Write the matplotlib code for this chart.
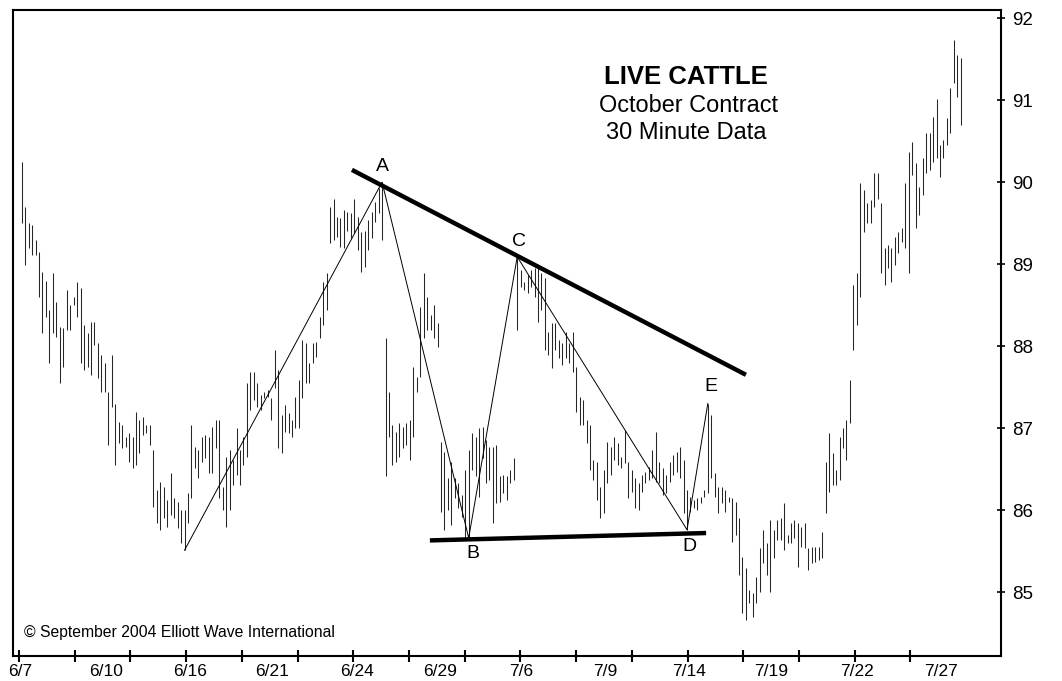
#!/usr/bin/env python3
"""Live Cattle October contract, 30 minute bars, with contracting triangle."""

import matplotlib
matplotlib.use("Agg")
import matplotlib.pyplot as plt
import numpy as np

plt.rcParams["font.family"] = ["Liberation Sans", "DejaVu Sans"]

# bar highs / lows, one pair per 30 minute bar (6/7 .. 7/28)
HIGHS = [
    90.24, 89.70, 89.50, 89.48, 89.29, 89.15, 88.90, 88.80, 88.44, 88.89,
    88.54, 88.23, 88.22, 88.68, 88.50, 88.60, 88.78, 88.71, 88.26, 88.16,
    88.29, 88.29, 88.04, 87.89, 87.79, 87.44, 87.89, 87.30, 87.07, 87.04,
    86.89, 86.94, 86.89, 87.20, 87.10, 87.13, 87.04, 87.04, 86.73, 86.24,
    86.34, 86.28, 86.12, 86.45, 86.15, 86.10, 86.00, 86.00, 86.21, 87.04,
    86.77, 86.73,
    86.89, 86.91, 86.89, 87.01, 87.10, 87.10, 86.28, 86.65, 86.73, 86.61,
    87.00, 86.73, 86.89, 87.55, 87.68, 87.68, 87.55, 87.40, 87.44, 87.46,
    87.37, 87.95, 87.71, 87.16, 87.28, 87.18, 87.10, 87.38, 87.59, 88.07,
    88.04, 87.79, 88.04, 88.05, 88.35, 88.78, 88.89, 89.70, 89.80, 89.57,
    89.56, 89.66, 89.63, 89.62, 89.80, 89.57, 89.39, 89.41, 89.54, 89.63,
    89.76, 89.93, 90.00,
    88.10, 87.44, 87.04, 86.95, 87.06, 87.01, 87.06, 87.10, 87.74, 87.62,
    88.48, 88.89, 88.60, 88.38, 88.50, 88.28, 86.83, 86.71, 86.39, 86.59,
    86.39, 86.33, 86.18, 86.49, 86.73, 86.94, 86.89, 87.00, 87.01, 86.85,
    86.77, 86.77, 86.79, 86.41, 86.43, 86.41, 86.49, 86.63, 89.09, 88.93,
    88.78, 88.87, 88.93, 88.95, 88.99, 88.89, 88.83, 88.17, 88.28, 88.28,
    88.07, 88.04, 88.17, 88.04, 88.17, 87.74, 87.38, 87.34, 87.10, 87.04,
    86.61, 86.59, 86.28, 86.49, 86.83, 86.77, 86.89, 86.82, 86.65, 86.98,
    86.59, 86.49, 86.39, 86.33, 86.43, 86.46, 86.52, 86.73, 86.95, 86.59,
    86.51, 86.43, 86.59, 86.67, 86.71, 86.77, 86.61, 86.24, 86.16, 86.12,
    86.15, 86.16, 86.24, 87.30, 87.16, 86.45, 86.28, 86.28, 86.24, 86.16,
    86.15, 86.10, 85.90, 85.43, 85.29, 85.02, 84.99, 85.18, 85.54, 85.76,
    85.60, 85.88, 85.76, 85.88, 85.90, 86.09, 85.70, 85.84, 85.88, 85.84,
    85.79, 85.84, 85.54, 85.55, 85.55, 85.55, 85.73, 86.59, 86.94, 86.70,
    86.49, 86.89, 87.00, 87.10, 87.59,
    88.74, 88.89, 89.99, 89.90, 89.74, 89.78, 90.11, 90.11, 89.74, 89.20,
    89.23, 89.20, 89.33, 89.39, 89.44, 89.99, 90.37, 90.49, 90.23, 89.94,
    90.30, 90.60, 90.60, 90.79, 91.02, 90.45, 90.51, 90.78, 91.15, 91.73,
    91.55, 91.51,
]
LOWS = [
    89.50, 88.99, 89.20, 89.11, 89.11, 88.60, 88.16, 88.35, 87.79, 88.16,
    88.11, 87.55, 87.74, 88.20, 88.20, 88.50, 88.35, 87.79, 87.71, 87.74,
    87.65, 88.01, 87.61, 87.44, 87.44, 86.79, 87.26, 86.55, 86.82, 86.76,
    86.77, 86.59, 86.51, 86.55, 86.70, 86.91, 86.94, 86.79, 86.04, 85.84,
    85.76, 85.90, 85.79, 85.94, 85.90, 85.78, 85.60, 85.51, 85.84, 86.15,
    86.51, 86.39,
    86.59, 86.63, 86.45, 86.45, 86.76, 86.15, 86.00, 85.79, 86.00, 86.30,
    86.43, 86.30, 86.55, 86.65, 87.22, 87.34, 87.26, 87.22, 87.37, 87.38,
    87.10, 87.49, 86.76, 86.70, 86.95, 86.94, 86.89, 87.00, 87.00, 87.37,
    87.55, 87.55, 87.79, 87.87, 88.10, 88.26, 88.44, 89.26, 89.29, 89.33,
    89.21, 89.20, 89.41, 89.32, 89.38, 89.17, 88.90, 88.96, 89.17, 89.32,
    89.51, 89.62, 89.29,
    86.41, 86.89, 86.55, 86.59, 86.65, 86.76, 86.79, 86.61, 86.89, 87.44,
    87.62, 88.10, 88.20, 88.20, 88.10, 87.99, 85.98, 85.76, 86.00, 85.82,
    86.15, 86.02, 85.91, 85.66, 85.66, 86.49, 86.41, 86.16, 86.63, 86.33,
    86.37, 85.84, 86.09, 86.10, 86.21, 86.12, 86.33, 86.37, 88.20, 88.72,
    88.68, 88.65, 88.72, 88.60, 88.29, 88.44, 87.95, 87.89, 87.73, 87.95,
    87.85, 87.77, 87.85, 87.80, 87.68, 87.20, 87.04, 87.04, 86.82, 86.49,
    86.37, 86.12, 85.90, 85.96, 86.33, 86.43, 86.61, 86.55, 86.51, 86.57,
    86.15, 86.22, 86.02, 86.00, 86.22, 86.33, 86.37, 86.39, 86.34, 86.33,
    86.18, 86.21, 86.34, 86.43, 86.46, 86.39, 85.96, 85.76, 85.98, 86.02,
    86.00, 86.09, 86.16, 86.21, 86.39, 86.16, 85.96, 86.09, 85.98, 86.10,
    85.61, 85.70, 85.21, 84.74, 84.66, 84.87, 84.70, 84.87, 85.00, 85.35,
    85.21, 85.00, 85.41, 85.63, 85.63, 85.51, 85.60, 85.60, 85.66, 85.30,
    85.55, 85.54, 85.27, 85.35, 85.37, 85.39, 85.41, 85.96, 86.22, 86.30,
    86.30, 86.37, 86.76, 86.61, 87.06,
    87.95, 88.26, 88.60, 89.39, 89.50, 89.50, 89.70, 89.80, 88.89, 88.74,
    88.95, 88.78, 88.99, 89.13, 89.27, 89.20, 88.89, 90.09, 89.44, 89.60,
    89.84, 90.11, 90.15, 90.24, 90.30, 90.06, 90.30, 90.45, 90.60, 91.21,
    91.04, 90.70,
]

# wave labels and the bar each pivot sits on (start low, A, B, C, D, E)
WAVE_LABELS = ["", "A", "B", "C", "D", "E"]
WAVE_BARS = [47, 104, 129, 143, 192, 198]
WAVE_IS_HIGH = [False, True, False, True, False, True]

# triangle boundary lines (bar index, price)
UPPER_LINE_X = [95.3, 209.0]
UPPER_LINE_Y = [90.15, 87.65]
LOWER_LINE_X = [117.8, 197.5]
LOWER_LINE_Y = [85.63, 85.72]

# date labels and the bar index where they sit
DATE_LABELS = ["6/7", "6/10", "6/16", "6/21", "6/24", "6/29",
               "7/6", "7/9", "7/14", "7/19", "7/22", "7/27"]
DATE_POS = [-0.5, 24.3, 48.6, 72.2, 96.8, 120.7,
            144.1, 168.3, 192.6, 216.2, 241.0, 265.3]
PRICE_TICKS = [85, 86, 87, 88, 89, 90, 91, 92]


def main() -> int:
    highs = np.array(HIGHS)
    lows = np.array(LOWS)
    x = np.arange(len(highs))

    fig = plt.figure(figsize=(10.62, 6.81), dpi=100)
    ax = fig.add_axes([13 / 1062, 1 - 656 / 681, (1001 - 13) / 1062, (656 - 10) / 681])

    ax.vlines(x, lows, highs, color="#262626", linewidth=0.75)

    # thin zigzag through the pivots
    wx = np.array(WAVE_BARS)
    wy = np.where(WAVE_IS_HIGH, highs[wx], lows[wx])
    ax.plot(wx, wy, color="black", linewidth=0.7)

    offsets = {"A": (0, 11), "B": (3, -11), "C": (1, 11), "D": (2, -12), "E": (2, 12)}
    for lab, px, py in zip(WAVE_LABELS, wx, wy):
        if not lab:
            continue
        ax.annotate(lab, (px, py), xytext=offsets[lab], textcoords="offset points",
                    ha="center", va="center", fontsize=14)

    ax.plot(UPPER_LINE_X, UPPER_LINE_Y, color="black", linewidth=3.2, solid_capstyle="butt")
    ax.plot(LOWER_LINE_X, LOWER_LINE_Y, color="black", linewidth=3.2, solid_capstyle="butt")

    ax.text(0.681, 0.897, "LIVE CATTLE", transform=ax.transAxes, ha="center", va="center",
            fontsize=18.5, fontweight="bold")
    ax.text(0.684, 0.852, "October Contract", transform=ax.transAxes, ha="center", va="center",
            fontsize=16.9)
    ax.text(0.681, 0.810, "30 Minute Data", transform=ax.transAxes, ha="center", va="center",
            fontsize=17)
    ax.text(0.011, 0.036, "\u00a9 September 2004 Elliott Wave International",
            transform=ax.transAxes, ha="left", va="center", fontsize=11.3)

    ax.set_xlim(-2.5, 282.6)
    ax.set_ylim(84.22, 92.10)

    ax.set_xticks(DATE_POS)
    ax.set_xticklabels(DATE_LABELS, fontsize=12.5)
    ax.set_xticks(np.arange(-0.8, 260, 16.08), minor=True)
    ax.tick_params(axis="x", which="major", length=0, pad=6)
    ax.tick_params(axis="x", which="minor", length=9, width=1.5, direction="inout")

    ax.yaxis.tick_right()
    ax.set_yticks(PRICE_TICKS)
    ax.set_yticklabels([str(v) for v in PRICE_TICKS], fontsize=13.5)
    ax.tick_params(axis="y", which="major", length=6, width=1.2, direction="inout", pad=5)

    for spine in ax.spines.values():
        spine.set_linewidth(1.5)

    fig.savefig("out.png", dpi=100)
    plt.close(fig)
    return 0


if __name__ == "__main__":
    raise SystemExit(main())
